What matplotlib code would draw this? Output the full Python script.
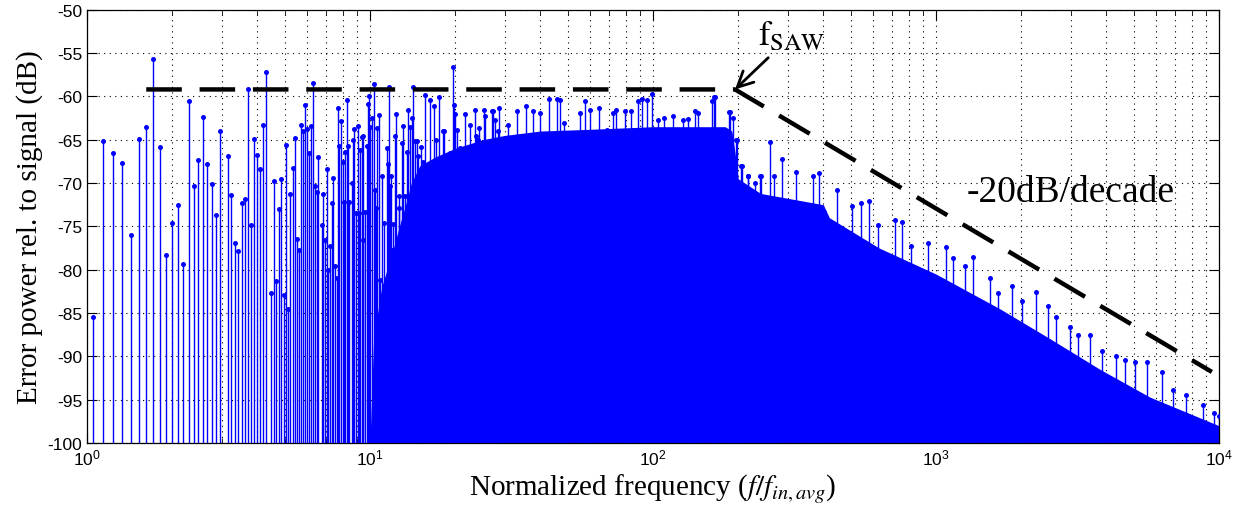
import numpy as np
import matplotlib
matplotlib.use("Agg")
import matplotlib.pyplot as plt
from matplotlib.ticker import LogLocator, FixedLocator, NullFormatter

plt.rcParams['font.family'] = ['Liberation Sans', 'DejaVu Sans']
plt.rcParams['axes.unicode_minus'] = False
plt.rcParams['mathtext.fontset'] = 'custom'
plt.rcParams['mathtext.rm'] = 'Liberation Sans'
plt.rcParams['mathtext.it'] = 'Liberation Sans:italic'
plt.rcParams['mathtext.default'] = 'regular'

# ---------------- data ----------------
BIN_WIDTH = 0.0952  # FFT bin spacing in normalized frequency

# individually resolved low-frequency bins (bin index, dB)
low_bins = [11, 12, 13, 14, 15, 16, 17, 18, 19, 20, 21, 22, 23, 24, 25, 26, 27, 28, 29, 30,
            31, 33, 34, 35, 36, 37, 38, 39, 40, 41, 42, 43, 44, 45, 47, 48, 49, 50, 51, 52,
            53, 54, 55, 56, 57, 58, 59, 60, 61, 62, 63, 64, 65, 66, 67, 68, 69]
low_db = [-85.5, -65.1, -66.5, -67.65, -76.0, -64.9, -63.5, -55.65, -65.9, -78.3,
          -74.6, -72.5, -79.4, -60.5, -70.3, -67.4, -62.4, -67.85, -70.15, -73.7,
          -64.0, -66.9, -71.4, -76.9, -77.8, -72.3, -71.8, -59.2, -74.8, -64.9,
          -66.8, -68.4, -63.3, -57.2, -82.7, -69.8, -81.3, -73.0, -69.5, -82.9,
          -65.6, -84.5, -71.3, -68.3, -64.8, -76.5, -77.7, -63.3, -64.0, -61.0,
          -63.8, -66.5, -63.4, -58.5, -70.3, -71.0, -67.0]

# stems around 7-13 (frequency, dB)
mid_f = [6.747, 6.839, 6.933, 7.028, 7.124, 7.221, 7.320, 7.420, 7.522, 7.625,
         7.708, 7.792, 7.898, 8.006, 8.071, 8.182, 8.271, 8.384, 8.453, 8.638,
         8.732, 8.803, 8.899, 9.045, 9.144, 9.219, 9.344, 9.421, 9.472, 9.602,
         9.733, 9.812, 9.920, 10.028, 10.165, 10.304, 10.388, 10.501, 10.615, 10.731,
         10.848, 10.997, 11.208, 11.330, 11.453, 11.547, 11.673, 11.768, 11.832, 11.961,
         12.092, 12.257, 12.357, 12.491, 12.628, 12.694, 11.94]
mid_db = [-74.85, -71.23, -76.54, -68.35, -80.08, -77.31, -72.31, -69.46, -79.62, -80.96,
          -61.35, -65.69, -62.85, -67.58, -72.19, -66.38, -60.42, -65.77, -72.19, -70.0,
          -65.0, -63.77, -73.46, -63.46, -73.46, -66.23, -64.73, -64.62, -76.54, -73.38,
          -65.69, -60.85, -59.92, -63.58, -62.46, -58.62, -70.85, -72.88, -63.65, -62.15,
          -81.15, -69.23, -74.62, -82.23, -65.96, -67.81, -58.88, -70.31, -69.23, -77.77,
          -74.69, -64.54, -62.08, -76.54, -72.88, -71.46, -91.65]

# visible peaks of the dense part (frequency, dB)
peak_f = [12.94, 13.12, 13.30, 13.48, 13.66, 13.85, 14.04, 14.23, 14.43, 14.62,
          14.82, 15.11, 15.36, 15.65, 15.86, 16.08, 16.30, 16.52, 16.75, 16.88,
          17.07, 17.35, 17.59, 17.83, 18.07, 18.32, 18.67, 18.92, 19.18, 19.44,
          19.65, 19.82, 20.03, 20.25, 20.53, 20.81, 21.09, 21.38, 21.67, 21.97,
          22.27, 22.57, 22.88, 23.19, 23.51, 23.70, 24.02, 24.35, 24.68, 25.02,
          25.36, 25.57, 25.85, 26.20, 26.56, 26.92, 27.29, 27.66, 28.04, 28.42,
          28.65, 30.8, 33.0, 35.6, 37.8, 39.9, 43.0, 45.7, 46.9, 48.5,
          55.2, 57.5, 59.9, 64.6, 68.6, 72.4, 74.0, 79.6, 83.4, 88.8,
          91.2, 94.9, 98.9, 104.5, 109.4, 118.0, 128.0, 133.3, 140.8, 144.6,
          161.2, 165.6, 174.9, 187.1, 197.5, 205.7, 217.2, 229.4, 238.8,
          163.9, 185.8, 191.1, 196.5, 204.8, 216.5, 240.8, 259.6, 266.9, 286.2,
          319.9, 367.7, 386.6, 403.0, 446.9, 506.5, 543.1, 582.3, 624.3, 717.6,
          758.7, 813.5, 935.1, 1084, 1152, 1271, 1354, 1557, 1655, 1851,
          2011, 2250, 2479, 2658, 2972, 3187, 3512, 3871, 4329, 4641,
          5046, 5562, 6307, 6854, 7664, 8809, 9577, 9985]
peak_db = [-65.38, -63.38, -71.54, -66.38, -61.54, -63.54, -62.5, -58.92, -65.19, -65.19,
           -66.92, -65.85, -67.54, -59.88, -69.54, -69.42, -60.38, -68.65, -67.88, -61.15,
           -65.0, -70.96, -60.08, -69.04, -64.04, -64.04, -67.5, -68.85, -66.54, -69.23,
           -56.62, -60.96, -62.0, -63.85, -73.46, -65.96, -66.73, -71.15, -62.0, -69.42,
           -67.23, -63.27, -68.08, -67.88, -61.62, -64.54, -65.0, -63.65, -65.77, -66.46,
           -61.62, -62.23, -68.85, -68.96, -70.0, -61.73, -61.65, -62.69, -68.27, -64.04,
           -61.35, -63.27, -61.65, -61.15, -61.65, -61.92, -60.31, -60.31, -60.38, -63.08,
           -61.92, -60.58, -61.54, -61.35, -63.85, -61.92, -61.54, -61.73, -61.65, -60.5,
           -60.31, -60.38, -59.73, -62.69, -62.5, -62.31, -62.69, -62.62, -61.65, -61.92,
           -60.5, -60.12, -64.23, -61.85, -65.0, -68.08, -69.23, -70.0, -69.23,
           -60.12, -61.85, -62.5, -65.0, -68.0, -69.15, -69.23, -65.31, -69.15, -67.23,
           -68.77, -69.15, -68.85, -73.35, -70.77, -72.69, -72.31, -72.04, -74.81, -74.23,
           -74.54, -77.31, -76.92, -77.38, -78.65, -79.62, -78.54, -80.96, -82.69, -81.92,
           -83.65, -82.58, -84.23, -85.46, -86.65, -87.5, -87.5, -89.42, -90.0, -90.46,
           -90.65, -90.65, -91.81, -93.85, -94.42, -95.58, -96.54, -96.92]

# top of the solid (fully filled) part of the spectrum
body_f = [10.0, 10.3, 11.0, 12.0, 12.7, 13.5, 14.0, 15.0, 17, 20, 25, 30, 40, 60, 100,
          180, 190, 195, 200, 240, 400, 420, 630, 1000, 1680, 2540, 3800, 5700, 10000]
body_db = [-100, -88, -82, -78, -75, -72, -70, -68, -67, -66, -65, -64.5, -64,
           -63.8, -63.5, -63.5, -64, -66.5, -69.5, -71.2, -72.5, -74.0, -77.5, -80.5, -84.5,
           -88, -91.5, -94.7, -98]

# dashed guide line (flat up to f_SAW, then -20 dB/decade)
guide_f = [1.62, 195, 9440]
guide_db = [-59.2, -59.2, -91.8]

# ---------------- plotting ----------------
fig = plt.figure(figsize=(12.37, 5.10), dpi=100)
ax = fig.add_axes([0.0703, 0.1294, 0.9151, 0.8496])

BLUE = '#0000ff'
ax.fill_between(body_f, -100, body_db, color=BLUE, lw=0, zorder=2)

low_f = [k * BIN_WIDTH for k in low_bins]
all_f = low_f + mid_f + peak_f
all_db = low_db + mid_db + peak_db
ax.vlines(all_f, -100, all_db, color=BLUE, lw=1.0, zorder=3)
ax.plot(all_f, all_db, 'o', color=BLUE, ms=3.6, mew=0, zorder=4)

ax.plot(guide_f, guide_db, color='black', lw=3.2, dashes=(8.0, 4.0),
        dash_capstyle='butt', zorder=5)

ax.set_xscale('log')
ax.set_xlim(1, 1e4)
ax.set_ylim(-100, -50)
ax.yaxis.set_major_locator(FixedLocator(np.arange(-100, -49, 5)))
ax.xaxis.set_major_locator(LogLocator(base=10, numticks=10))
ax.xaxis.set_minor_locator(LogLocator(base=10, subs=np.arange(2, 10), numticks=20))
ax.xaxis.set_minor_formatter(NullFormatter())

ax.grid(True, which='major', ls=(0, (1, 4)), color='black', lw=0.8)
ax.grid(True, which='minor', axis='x', ls=(0, (1, 4)), color='black', lw=0.8)
ax.tick_params(which='both', direction='in', top=True, right=True, labelsize=12.5)
ax.tick_params(which='major', length=7, width=0.8)
ax.tick_params(which='minor', length=3.5, width=0.6)
for s in ax.spines.values():
    s.set_linewidth(0.9)

ax.set_ylabel('Error power rel. to signal (dB)', fontsize=21,
              family='Liberation Serif', labelpad=3)
ax.set_xlabel('Normalized frequency ($\\mathit{f/f}_{\\mathit{in,avg}}$)', fontsize=21,
              family='Liberation Serif', math_fontfamily='stix', labelpad=2)

ax.annotate('$\\mathrm{f}_{\\mathrm{SAW}}$', xy=(195, -59.2), xytext=(235, -54.0),
            fontsize=25, math_fontfamily='stix', ha='left', va='baseline',
            arrowprops=dict(arrowstyle='->', lw=2.0, color='black',
                            mutation_scale=28, shrinkA=3, shrinkB=0))
ax.text(1287, -72.07, '-20dB/decade', fontsize=27, family='Liberation Serif',
        ha='left', va='baseline')

fig.savefig('out.png', dpi=100)
